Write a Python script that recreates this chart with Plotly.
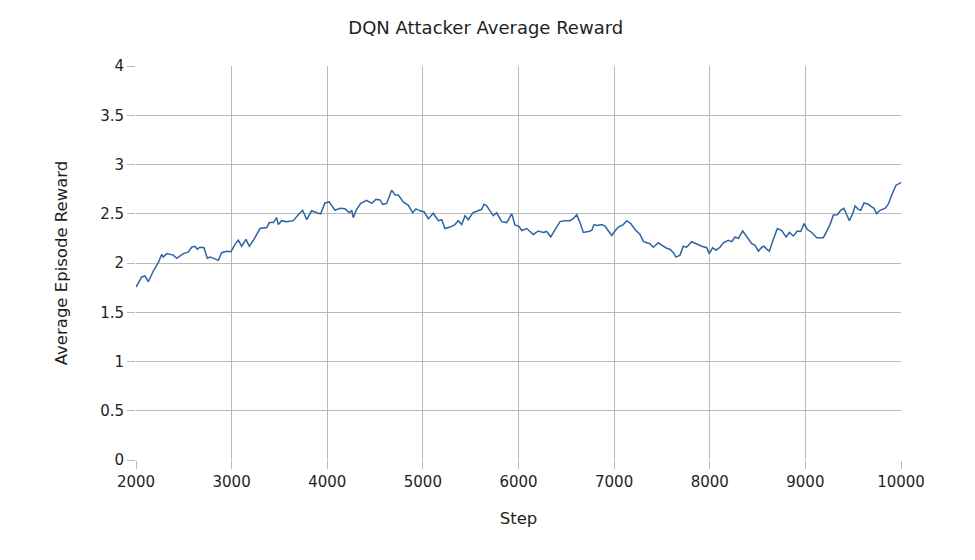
import plotly.graph_objects as go

steps = [2000, 2060, 2094, 2129, 2181, 2233, 2269, 2285, 2321, 2390, 2426, 2495, 2547, 2582, 2617, 2641, 2669, 2711, 2746, 2774,
         2808, 2861, 2896, 2948, 2993, 3035, 3070, 3105, 3150, 3185, 3234, 3297, 3367, 3394, 3436, 3471, 3488, 3524, 3576, 3645,
         3697, 3743, 3785, 3837, 3890, 3931, 3976, 4021, 4081, 4133, 4186, 4231, 4256, 4272, 4308, 4350, 4412, 4465, 4510, 4552,
         4580, 4622, 4674, 4708, 4743, 4795, 4848, 4894, 4928, 4970, 5012, 5057, 5109, 5161, 5197, 5231, 5284, 5336, 5370, 5406,
         5441, 5475, 5521, 5580, 5615, 5639, 5667, 5702, 5736, 5772, 5824, 5877, 5929, 5963, 6008, 6033, 6086, 6155, 6207, 6259,
         6295, 6337, 6382, 6434, 6486, 6538, 6573, 6609, 6643, 6678, 6730, 6766, 6789, 6824, 6870, 6904, 6929, 6975, 7009, 7044,
         7096, 7132, 7174, 7218, 7271, 7305, 7341, 7375, 7410, 7462, 7515, 7550, 7584, 7619, 7647, 7689, 7723, 7759, 7811, 7863,
         7916, 7968, 7995, 8031, 8066, 8107, 8142, 8194, 8230, 8264, 8299, 8345, 8387, 8439, 8474, 8508, 8544, 8568, 8596, 8623,
         8665, 8707, 8753, 8798, 8833, 8875, 8916, 8952, 8986, 9021, 9067, 9119, 9188, 9224, 9258, 9293, 9335, 9369, 9404, 9432,
         9460, 9495, 9519, 9554, 9579, 9613, 9658, 9694, 9718, 9746, 9780, 9833, 9868, 9903, 9948, 9990, 10000]

rewards = [1.756, 1.858, 1.868, 1.81, 1.919, 2.003, 2.088, 2.06, 2.095, 2.08, 2.048, 2.095, 2.11, 2.16, 2.17, 2.14, 2.16, 2.155, 2.048, 2.06,
           2.05, 2.027, 2.105, 2.12, 2.115, 2.19, 2.233, 2.17, 2.24, 2.17, 2.24, 2.35, 2.36, 2.41, 2.41, 2.46, 2.39, 2.43, 2.42, 2.43,
           2.49, 2.535, 2.44, 2.53, 2.51, 2.50, 2.61, 2.62, 2.535, 2.555, 2.55, 2.51, 2.535, 2.46, 2.545, 2.605, 2.636, 2.605, 2.647, 2.64,
           2.596, 2.605, 2.74, 2.69, 2.69, 2.62, 2.585, 2.51, 2.55, 2.53, 2.52, 2.45, 2.505, 2.43, 2.44, 2.35, 2.365, 2.39, 2.43, 2.39,
           2.48, 2.44, 2.51, 2.535, 2.545, 2.596, 2.58, 2.53, 2.48, 2.51, 2.42, 2.41, 2.50, 2.386, 2.37, 2.33, 2.35, 2.29, 2.325, 2.31,
           2.32, 2.264, 2.34, 2.42, 2.43, 2.43, 2.45, 2.49, 2.41, 2.31, 2.32, 2.33, 2.39, 2.38, 2.39, 2.375, 2.34, 2.28, 2.325, 2.365,
           2.39, 2.43, 2.40, 2.34, 2.29, 2.22, 2.205, 2.196, 2.16, 2.205, 2.17, 2.15, 2.14, 2.105, 2.06, 2.08, 2.17, 2.16, 2.216, 2.19,
           2.17, 2.155, 2.095, 2.155, 2.13, 2.16, 2.205, 2.23, 2.217, 2.264, 2.25, 2.325, 2.264, 2.196, 2.18, 2.12, 2.16, 2.17, 2.14, 2.12,
           2.24, 2.35, 2.33, 2.264, 2.31, 2.274, 2.325, 2.32, 2.40, 2.34, 2.31, 2.257, 2.257, 2.32, 2.39, 2.487, 2.49, 2.535, 2.555, 2.49,
           2.43, 2.50, 2.58, 2.545, 2.535, 2.61, 2.596, 2.57, 2.555, 2.50, 2.535, 2.555, 2.60, 2.69, 2.79, 2.81, 2.82]

x_ticks = [2000, 3000, 4000, 5000, 6000, 7000, 8000, 9000, 10000]
y_ticks = [0, 0.5, 1, 1.5, 2, 2.5, 3, 3.5, 4]
y_tick_labels = ["0", "0.5", "1", "1.5", "2", "2.5", "3", "3.5", "4"]

FONT = "DejaVu Sans"
GRID = "#b9b9b9"
TEXT = "#1e1e1e"

fig = go.Figure()
fig.add_trace(go.Scatter(x=steps, y=rewards, mode="lines",
                         line=dict(color="#2f64a3", width=1.5),
                         showlegend=False, hoverinfo="skip"))

fig.update_layout(
    width=975, height=560,
    paper_bgcolor="white", plot_bgcolor="white",
    margin=dict(l=128, r=82, t=58, b=108),
    font=dict(family=FONT, size=15, color=TEXT),
    title=dict(text="DQN Attacker Average Reward", x=0.49, xanchor="center",
               y=1 - 20 / 560, yanchor="middle", font=dict(size=18, family=FONT, color=TEXT)),
)
fig.update_xaxes(range=[2000, 10000], tickvals=x_ticks, ticktext=[str(v) for v in x_ticks],
                 showgrid=True, gridcolor=GRID, gridwidth=1, zeroline=False,
                 showline=False, ticks="outside", ticklen=8, tickcolor=GRID,
                 tickfont=dict(size=15), title=dict(text="Step", font=dict(size=16.5), standoff=22))
fig.update_yaxes(range=[0, 4], tickvals=y_ticks, ticktext=y_tick_labels,
                 showgrid=True, gridcolor=GRID, gridwidth=1, zeroline=False,
                 showline=False, ticks="outside", ticklen=8, tickcolor=GRID,
                 tickfont=dict(size=15), title=dict(text="Average Episode Reward", font=dict(size=16.5), standoff=28))

fig.write_html("out.html")
